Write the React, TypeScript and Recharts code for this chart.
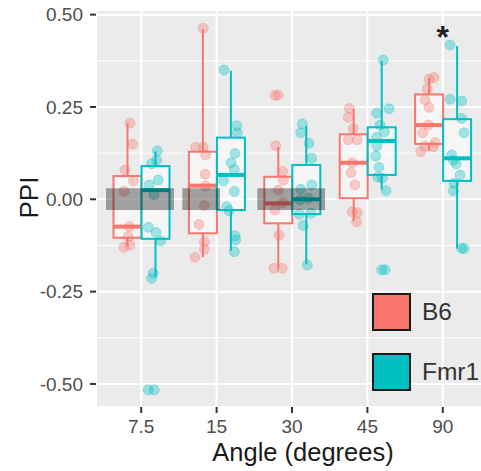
import {
  ComposedChart,
  Bar,
  Scatter,
  XAxis,
  YAxis,
  CartesianGrid,
  ReferenceArea,
  ReferenceDot,
  Legend,
} from 'recharts'

const angles = ['7.5', '15', '30', '45', '90']
const yTicks = [-0.5, -0.25, 0, 0.25, 0.5]
const minorTicks = [-0.375, -0.125, 0.125, 0.375]

// box statistics per angle
const b6Low = [-0.128, -0.157, -0.187, -0.059, 0.131]
const b6Q1 = [-0.104, -0.092, -0.065, 0.003, 0.15]
const b6Median = [-0.074, 0.037, -0.011, 0.099, 0.201]
const b6Q3 = [0.063, 0.129, 0.061, 0.176, 0.284]
const b6High = [0.206, 0.461, 0.142, 0.245, 0.328]

const fmr1Low = [-0.21, -0.139, -0.176, 0.027, -0.133]
const fmr1Q1 = [-0.107, -0.029, -0.04, 0.066, 0.05]
const fmr1Median = [0.025, 0.066, 0.0, 0.158, 0.111]
const fmr1Q3 = [0.09, 0.167, 0.093, 0.195, 0.217]
const fmr1High = [0.129, 0.348, 0.199, 0.375, 0.415]

// jittered animals: [x position on the angle scale (1..5), PPI]
const b6Points = [
  [0.851, 0.206], [0.887, 0.149], [0.785, 0.079], [0.895, 0.05], [0.771, 0.022],
  [0.842, -0.074], [0.828, -0.101], [0.851, -0.124], [0.771, -0.13],
  [1.823, 0.463], [1.723, 0.141], [1.823, 0.141], [1.855, 0.12], [1.846, 0.068],
  [1.855, 0.036], [1.837, -0.017], [1.766, -0.068], [1.837, -0.115], [1.837, -0.135], [1.713, -0.157],
  [2.775, 0.282], [2.818, 0.282], [2.784, 0.145], [2.877, 0.075], [2.885, 0.052],
  [2.818, 0.025], [2.877, -0.009], [2.775, -0.029], [2.828, -0.097], [2.761, -0.187], [2.871, -0.187],
  [3.76, 0.246], [3.747, 0.222], [3.813, 0.192], [3.747, 0.161], [3.866, 0.161],
  [3.8, 0.099], [3.783, 0.072], [3.836, 0.039], [3.8, -0.034], [3.866, -0.036], [3.858, -0.061],
  [4.818, 0.325], [4.884, 0.33], [4.795, 0.299], [4.765, 0.269], [4.818, 0.249],
  [4.808, 0.201], [4.734, 0.18], [4.897, 0.154], [4.765, 0.144], [4.875, 0.142], [4.708, 0.129],
]

const fmr1Points = [
  [1.213, 0.131], [1.205, 0.106], [1.139, 0.096], [1.226, 0.052], [1.107, 0.039],
  [1.169, 0.012], [1.094, -0.076], [1.196, -0.09], [1.258, -0.113], [1.16, -0.2],
  [1.139, -0.214], [1.094, -0.516], [1.173, -0.516],
  [2.098, 0.35], [2.267, 0.199], [2.274, 0.18], [2.244, 0.124], [2.191, 0.099],
  [2.235, 0.081], [2.089, 0.05], [2.235, 0.021], [2.134, -0.02], [2.164, -0.031],
  [2.244, -0.099], [2.253, -0.11], [2.235, -0.142],
  [3.137, 0.204], [3.116, 0.18], [3.226, 0.152], [3.262, 0.111], [3.262, 0.039],
  [3.116, 0.027], [3.106, -0.002], [3.216, 0.003], [3.097, -0.04], [3.252, -0.038],
  [3.15, -0.071], [3.203, -0.178],
  [4.211, 0.377], [4.287, 0.245], [4.124, 0.233], [4.168, 0.201], [4.225, 0.183],
  [4.124, 0.168], [4.124, 0.144], [4.111, 0.117], [4.154, 0.087], [4.137, 0.06],
  [4.198, 0.057], [4.247, 0.023], [4.19, -0.191], [4.234, -0.191],
  [5.096, 0.418], [5.096, 0.271], [5.251, 0.266], [5.251, 0.219], [5.282, 0.18],
  [5.119, 0.12], [5.14, 0.106], [5.176, 0.096], [5.229, 0.066], [5.149, 0.043],
  [5.14, 0.023], [5.251, -0.133], [5.282, -0.133],
]

// grey null ranges
const nullBands = [
  { x1: 0.533, x2: 1.435, y1: -0.029, y2: 0.03 },
  { x1: 1.545, x2: 2.046, y1: -0.029, y2: 0.03 },
  { x1: 2.54, x2: 3.438, y1: -0.029, y2: 0.03 },
]

const sigMarks = [{ angle: '90', y: 0.44, text: '*' }]

const groups = [
  { key: 'b6', name: 'B6', color: '#F8766D' },
  { key: 'fmr1', name: 'Fmr1', color: '#00BFC4' },
]

const rows = angles.map((angle, i) => ({
  angle,
  b6Range: [b6Q1[i], b6Q3[i]],
  fmr1Range: [fmr1Q1[i], fmr1Q3[i]],
  b6: { lo: b6Low[i], q1: b6Q1[i], med: b6Median[i], q3: b6Q3[i], hi: b6High[i] },
  fmr1: { lo: fmr1Low[i], q1: fmr1Q1[i], med: fmr1Median[i], q3: fmr1Q3[i], hi: fmr1High[i] },
}))

const toXY = (pts: number[][]) => pts.map(([x, y]) => ({ x, y }))

const font = 'Liberation Sans, Arial, Helvetica, sans-serif'

// the bar spans q1..q3, so its own pixel height gives the y scale for the rest
function boxShape(key: string, color: string) {
  return (props: any) => {
    const { x, y, width, height, payload } = props
    const s = payload && payload[key]
    if (!s || !height) return <g />
    const k = height / (s.q1 - s.q3)
    const py = (v: number) => y + (v - s.q3) * k
    const cx = x + width / 2
    return (
      <g>
        <line x1={cx} x2={cx} y1={py(s.hi)} y2={py(s.q3)} stroke={color} strokeWidth={2} />
        <line x1={cx} x2={cx} y1={py(s.q1)} y2={py(s.lo)} stroke={color} strokeWidth={2} />
        <rect
          x={x}
          y={Math.min(y, y + height)}
          width={width}
          height={Math.abs(height)}
          fill="#fff"
          fillOpacity={0.55}
          stroke={color}
          strokeWidth={2}
        />
        <line x1={x} x2={x + width} y1={py(s.med)} y2={py(s.med)} stroke={color} strokeWidth={4} />
      </g>
    )
  }
}

function dotShape(color: string) {
  return (props: any) => (
    <circle
      cx={props.cx}
      cy={props.cy}
      r={5}
      fill={color}
      fillOpacity={0.35}
      stroke={color}
      strokeOpacity={0.3}
    />
  )
}

function LegendBox() {
  return (
    <div style={{ fontFamily: font }}>
      {groups.map((g) => (
        <div key={g.key} style={{ display: 'flex', alignItems: 'center', height: 60 }}>
          <div
            style={{
              width: 39,
              height: 38,
              boxSizing: 'border-box',
              background: g.color,
              border: '2px solid #1a1a1a',
            }}
          />
          <span style={{ marginLeft: 11, fontSize: 24.5, color: '#333' }}>{g.name}</span>
        </div>
      ))}
    </div>
  )
}

export default function App() {
  return (
    <div
      style={{
        position: 'absolute',
        left: 0,
        top: 0,
        width: 481,
        height: 471,
        overflow: 'hidden',
        background: '#fff',
      }}
    >
      <ComposedChart
        width={500}
        height={471}
        data={rows}
        margin={{ top: 10, right: 12, bottom: 0, left: 0 }}
        barGap={0}
        style={{ fontFamily: font }}
      >
        <CartesianGrid fill="#EBEBEB" stroke="#fff" strokeWidth={2} />
        <CartesianGrid
          horizontalValues={minorTicks}
          vertical={false}
          stroke="#fff"
          strokeWidth={1}
        />
        <XAxis
          dataKey="angle"
          padding={{ left: 7.5, right: 7.5 }}
          height={64}
          axisLine={false}
          tickSize={6}
          tickMargin={7}
          tickLine={{ stroke: '#333', strokeWidth: 2 }}
          tick={{ fontSize: 19, fill: '#4D4D4D' }}
          label={{
            value: 'Angle (degrees)',
            position: 'insideBottom',
            offset: 10,
            dx: 11,
            fontSize: 25.5,
            fill: '#1a1a1a',
          }}
        />
        <XAxis xAxisId="num" type="number" dataKey="x" domain={[0.4, 5.6]} hide allowDataOverflow />
        <YAxis
          width={96}
          domain={[-0.5624, 0.5126]}
          ticks={yTicks}
          allowDataOverflow
          axisLine={false}
          tickSize={6}
          tickMargin={7}
          tickLine={{ stroke: '#333', strokeWidth: 2 }}
          tick={{ fontSize: 19, fill: '#4D4D4D' }}
          tickFormatter={(v: number) => v.toFixed(2)}
          label={{
            value: 'PPI',
            angle: -90,
            position: 'center',
            dx: -19.5,
            dy: -11,
            fontSize: 26,
            fill: '#1a1a1a',
          }}
        />
        {groups.map((g) => (
          <Bar
            key={g.key}
            dataKey={g.key + 'Range'}
            name={g.name}
            barSize={28}
            fill={g.color}
            shape={boxShape(g.key, g.color)}
            isAnimationActive={false}
          />
        ))}
        <Scatter
          data={toXY(b6Points)}
          dataKey="y"
          xAxisId="num"
          name="B6"
          fill="#F8766D"
          shape={dotShape('#F8766D')}
          isAnimationActive={false}
        />
        <Scatter
          data={toXY(fmr1Points)}
          dataKey="y"
          xAxisId="num"
          name="Fmr1"
          fill="#00BFC4"
          shape={dotShape('#00BFC4')}
          isAnimationActive={false}
        />
        {nullBands.map((b, i) => (
          <ReferenceArea
            key={i}
            xAxisId="num"
            x1={b.x1}
            x2={b.x2}
            y1={b.y1}
            y2={b.y2}
            fill="#000"
            fillOpacity={0.35}
            stroke="none"
            zIndex={1500}
          />
        ))}
        {sigMarks.map((m) => (
          <ReferenceDot
            key={m.angle}
            x={m.angle}
            y={m.y}
            r={0}
            fill="none"
            stroke="none"
            label={{ value: m.text, position: 'center', fontSize: 32, fontWeight: 700, fill: '#222' }}
          />
        ))}
        <Legend
          layout="vertical"
          align="center"
          verticalAlign="middle"
          wrapperStyle={{ left: 372, top: 282, width: 'auto' }}
          content={() => <LegendBox />}
        />
      </ComposedChart>
    </div>
  )
}
